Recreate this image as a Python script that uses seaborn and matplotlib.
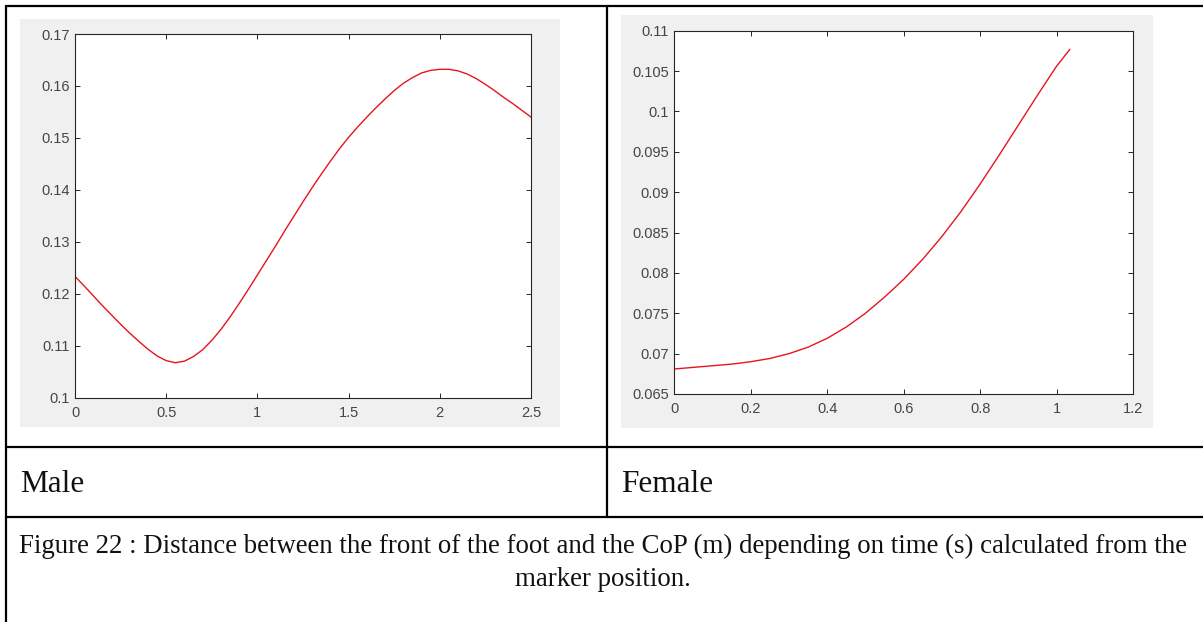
import numpy as np
import pandas as pd
import matplotlib
matplotlib.use("Agg")
import matplotlib.pyplot as plt
from matplotlib.lines import Line2D
from matplotlib.patches import Rectangle
from matplotlib.ticker import FuncFormatter
import seaborn as sns

# values (time in s, distance in m)
male_t = [0.0, 0.05, 0.1, 0.15, 0.2, 0.25, 0.3, 0.35, 0.4, 0.45, 0.5, 0.55,
          0.6, 0.65, 0.7, 0.75, 0.8, 0.85, 0.9, 0.95, 1.0, 1.05, 1.1, 1.15,
          1.2, 1.25, 1.3, 1.35, 1.4, 1.45, 1.5, 1.55, 1.6, 1.65, 1.7, 1.75,
          1.8, 1.85, 1.9, 1.95, 2.0, 2.05, 2.1, 2.15, 2.2, 2.25, 2.3, 2.35,
          2.4, 2.45, 2.5]
male_d = [0.1233, 0.1215, 0.1196, 0.1177, 0.1159, 0.1141, 0.1124, 0.1108,
          0.1093, 0.1080, 0.1071, 0.1067, 0.1070, 0.1079, 0.1092, 0.1110,
          0.1131, 0.1155, 0.1181, 0.1208, 0.1236, 0.1264, 0.1292, 0.1321,
          0.1349, 0.1377, 0.1404, 0.1430, 0.1455, 0.1479, 0.1501, 0.1521,
          0.1540, 0.1558, 0.1575, 0.1591, 0.1605, 0.1616, 0.1625, 0.1630,
          0.1632, 0.1632, 0.1629, 0.1623, 0.1614, 0.1603, 0.1591, 0.1578,
          0.1566, 0.1553, 0.1540]

female_t = [0.0, 0.05, 0.1, 0.15, 0.2, 0.25, 0.3, 0.35, 0.4, 0.45, 0.5, 0.55,
            0.6, 0.65, 0.7, 0.75, 0.8, 0.85, 0.9, 0.95, 1.0, 1.035]
female_d = [0.0681, 0.0683, 0.0685, 0.0687, 0.0690, 0.0694, 0.0700, 0.0708,
            0.0719, 0.0733, 0.0750, 0.0770, 0.0792, 0.0817, 0.0845, 0.0876,
            0.0910, 0.0946, 0.0983, 0.1020, 0.1056, 0.1077]

male_xticks = [0, 0.5, 1, 1.5, 2, 2.5]
male_yticks = [0.1, 0.11, 0.12, 0.13, 0.14, 0.15, 0.16, 0.17]
female_xticks = [0, 0.2, 0.4, 0.6, 0.8, 1, 1.2]
female_yticks = [0.065, 0.07, 0.075, 0.08, 0.085, 0.09, 0.095, 0.1, 0.105, 0.11]

cell_labels = ["Male", "Female"]
caption = ["Figure 22 : Distance between the front of the foot and the CoP (m) depending on time (s) calculated from the",
           "marker position."]

sns.set_style("white")
plt.rcParams["font.family"] = ["Liberation Sans", "DejaVu Sans"]

W, H = 1203, 622
fig = plt.figure(figsize=(W / 100, H / 100), dpi=100)
fig.patch.set_facecolor("white")


def px_box(x0, y0, x1, y1):
    # pixel box (top-left origin) -> figure fraction rect
    return [x0 / W, 1 - y1 / H, (x1 - x0) / W, (y1 - y0) / H]


def fx(x):
    return x / W


def fy(y):
    return 1 - y / H


# grey matlab figure backgrounds
for x0, y0, x1, y1 in [(20, 19, 560, 427), (621, 15, 1153, 428)]:
    fig.add_artist(Rectangle((fx(x0), fy(y1)), (x1 - x0) / W, (y1 - y0) / H,
                             transform=fig.transFigure, facecolor="#f0f0f0",
                             edgecolor="none", zorder=0))

fmt = FuncFormatter(lambda v, p: f"{v:g}")
tick_col = "#454545"


def matlab_axes(box, t, d, xlim, ylim, xticks, yticks):
    ax = fig.add_axes(box)
    df = pd.DataFrame({"t": t, "d": d})
    sns.lineplot(data=df, x="t", y="d", ax=ax, color="#e8141c", linewidth=1.0)
    ax.set_xlim(*xlim)
    ax.set_ylim(*ylim)
    ax.set_xticks(xticks)
    ax.set_yticks(yticks)
    ax.xaxis.set_major_formatter(fmt)
    ax.yaxis.set_major_formatter(fmt)
    ax.set_xlabel("")
    ax.set_ylabel("")
    ax.set_facecolor("white")
    ax.tick_params(direction="in", length=3.5, width=0.7, color="#262626",
                   labelcolor=tick_col, labelsize=10.5,
                   top=True, right=True, bottom=True, left=True)
    ax.tick_params(axis="x", pad=6)
    ax.tick_params(axis="y", pad=4)
    for s in ax.spines.values():
        s.set_color("#262626")
        s.set_linewidth(0.8)
        s.set_visible(True)
    return ax


matlab_axes(px_box(75, 34, 531, 397.5), male_t, male_d, (0, 2.5), (0.1, 0.17),
            male_xticks, male_yticks)
matlab_axes(px_box(674.3, 30.7, 1133, 394), female_t, female_d, (0, 1.2),
            (0.065, 0.11), female_xticks, female_yticks)

# table rules
lw = 1.6
rules = [
    ((6, W), (5.5, 5.5)),
    ((6, 6), (5.5, H)),
    ((607, 607), (5.5, 517)),
    ((6, W), (447, 447)),
    ((6, W), (517, 517)),
]
for xs, ys in rules:
    fig.add_artist(Line2D([fx(xs[0]), fx(xs[1])], [fy(ys[0]), fy(ys[1])],
                          transform=fig.transFigure, color="black", linewidth=lw))

serif = ["Liberation Serif", "DejaVu Serif"]
fig.text(fx(20), fy(485), cell_labels[0], family=serif, fontsize=22.5,
         ha="left", va="center", color="#111111")
fig.text(fx(621), fy(485), cell_labels[1], family=serif, fontsize=22.5,
         ha="left", va="center", color="#111111")
fig.text(fx(603), fy(546), caption[0], family=serif, fontsize=19.4,
         ha="center", va="center", color="#111111")
fig.text(fx(603), fy(580), caption[1], family=serif, fontsize=19.4,
         ha="center", va="center", color="#111111")

fig.savefig("out.png", dpi=100)
